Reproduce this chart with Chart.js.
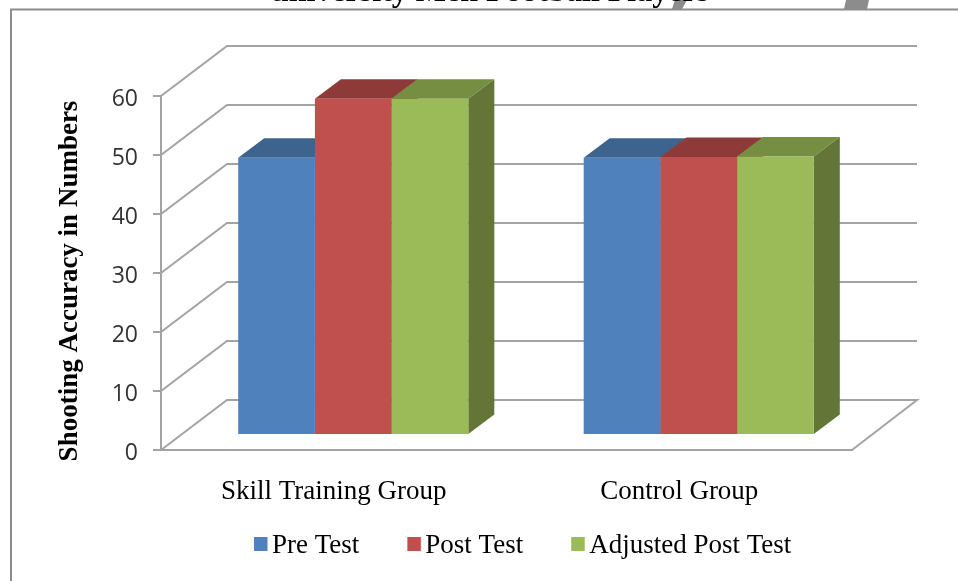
<!DOCTYPE html>
<html>
<head>
<meta charset="utf-8">
<title>Shooting Accuracy</title>
<script src="https://cdn.jsdelivr.net/npm/chart.js@4"></script>
<style>
    html, body { margin: 0; padding: 0; background: #fff; overflow: hidden; }
    canvas { display: block; }
</style>
</head>
<body>
<canvas id="ShootingChart" width="958" height="581"></canvas>
<script>
const categories = ["Skill Training Group", "Control Group"];
const preTest = [47, 47];
const postTest = [57, 47.1];
const adjustedPostTest = [57, 47.2];
const yTicks = [0, 10, 20, 30, 40, 50, 60];
const titleText = "university Men Football Players";
const yTitle = "Shooting Accuracy in Numbers";

const lineColor = "#a3a3a3";
const serif = "'Liberation Serif'";

// box depth of the fake 3D look, and how far the bars sit inside the floor
const barDepth = { x: 26, y: -19.5 };
const barInset = { x: 19.5, y: -15 };
const wallDepth = { x: 66, y: -50 };

function poly(ctx, pts, fill) {
    ctx.beginPath();
    pts.forEach((p, i) => (i ? ctx.lineTo(p[0], p[1]) : ctx.moveTo(p[0], p[1])));
    ctx.closePath();
    ctx.fillStyle = fill;
    ctx.fill();
}

const pagePlugin = {
    id: "page",
    beforeDraw(chart) {
        const ctx = chart.ctx;
        ctx.save();
        // frame, cut by the window on the right and bottom
        ctx.strokeStyle = "#8c8c8c";
        ctx.lineWidth = 2;
        ctx.beginPath();
        ctx.moveTo(11, 581);
        ctx.lineTo(11, 9.5);
        ctx.lineTo(958, 9.5);
        ctx.stroke();
        // grey bits over the frame
        poly(ctx, [[675, 0], [687, 0], [682, 9], [672, 9]], "#8c8c8c");
        poly(ctx, [[846, 0], [869, 0], [867, 9], [844, 9]], "#8c8c8c");
        // title, cut by the top of the window
        ctx.fillStyle = "#000";
        ctx.font = "bold 32px " + serif;
        ctx.textAlign = "center";
        ctx.textBaseline = "alphabetic";
        ctx.fillText(titleText, 490, 1);
        ctx.restore();
    },
    beforeDatasetsDraw(chart) {
        const ctx = chart.ctx;
        const y = chart.scales.y;
        const left = chart.chartArea.left;
        const right = chart.chartArea.right;
        ctx.save();
        ctx.strokeStyle = lineColor;
        ctx.lineWidth = 2;
        yTicks.forEach((v) => {
            const py = y.getPixelForValue(v);
            ctx.beginPath();
            ctx.moveTo(left, py);
            ctx.lineTo(left + wallDepth.x, py + wallDepth.y);
            ctx.lineTo(right + 65, py + wallDepth.y);
            if (v === 0) {
                ctx.lineTo(right, py);
            }
            ctx.stroke();
        });
        ctx.restore();

        // tops and sides go under the fronts, shift stays on until the bars are drawn
        ctx.save();
        ctx.translate(barInset.x, barInset.y);
        chart.data.datasets.forEach((ds, i) => {
            chart.getDatasetMeta(i).data.forEach((bar) => {
                const x0 = bar.x - bar.width / 2;
                const x1 = bar.x + bar.width / 2;
                const dx = barDepth.x;
                const dy = barDepth.y;
                poly(ctx, [[x0, bar.y], [x1, bar.y], [x1 + dx, bar.y + dy], [x0 + dx, bar.y + dy]], ds.topColor);
                poly(ctx, [[x1, bar.y], [x1 + dx, bar.y + dy], [x1 + dx, bar.base + dy], [x1, bar.base]], ds.sideColor);
            });
        });
    },
    afterDatasetsDraw(chart) {
        chart.ctx.restore();
    },
    afterDraw(chart) {
        const ctx = chart.ctx;
        ctx.save();
        // axis title sits lower than the plot centre, so it is not the scale's own
        ctx.translate(77, 281);
        ctx.rotate(-Math.PI / 2);
        ctx.fillStyle = "#000";
        ctx.font = "bold 27px " + serif;
        ctx.textAlign = "center";
        ctx.textBaseline = "alphabetic";
        ctx.fillText(yTitle, 0, 0);
        ctx.restore();

        // legend by hand, the built-in one cannot get the tight gap after the square
        ctx.save();
        ctx.font = "27px " + serif;
        ctx.textAlign = "left";
        ctx.textBaseline = "alphabetic";
        let x = 254;
        chart.data.datasets.forEach((ds) => {
            ctx.fillStyle = ds.backgroundColor;
            ctx.fillRect(x, 537, 13.5, 14);
            ctx.fillStyle = "#000";
            ctx.fillText(ds.label, x + 18, 553);
            x += 18 + ctx.measureText(ds.label).width + 48;
        });
        ctx.restore();
    },
};

new Chart(document.getElementById("ShootingChart"), {
    type: "bar",
    data: {
        labels: categories,
        datasets: [
            { label: "Pre Test", data: preTest, backgroundColor: "#4f81bd", topColor: "#3e638f", sideColor: "#335276" },
            { label: "Post Test", data: postTest, backgroundColor: "#c0504d", topColor: "#8e3a38", sideColor: "#76302e" },
            { label: "Adjusted Post Test", data: adjustedPostTest, backgroundColor: "#9bbb59", topColor: "#768e42", sideColor: "#647637" },
        ],
    },
    options: {
        responsive: false,
        animation: false,
        categoryPercentage: 0.666,
        barPercentage: 1,
        layout: {
            padding: { top: 96, right: 106, bottom: 0, left: 0 },
        },
        plugins: {
            legend: { display: false },
            tooltip: { enabled: false },
        },
        scales: {
            x: {
                afterFit(scale) {
                    scale.height = 131;
                },
                grid: { display: false },
                border: { color: lineColor, width: 2 },
                ticks: {
                    color: "#000",
                    font: { family: serif, size: 27 },
                    padding: 18,
                    maxRotation: 0,
                },
            },
            y: {
                min: 0,
                max: 60,
                afterFit(scale) {
                    scale.width = 161;
                },
                afterBuildTicks(scale) {
                    scale.ticks = yTicks.map((v) => ({ value: v }));
                },
                grid: { drawOnChartArea: false, color: lineColor, lineWidth: 2, tickLength: 8 },
                border: { color: lineColor, width: 2 },
                ticks: {
                    color: "#333",
                    font: { family: "'Open Sans'", size: 23 },
                    padding: 15,
                    labelOffset: 3,
                },
            },
        },
    },
    plugins: [pagePlugin],
});
</script>
</body>
</html>
